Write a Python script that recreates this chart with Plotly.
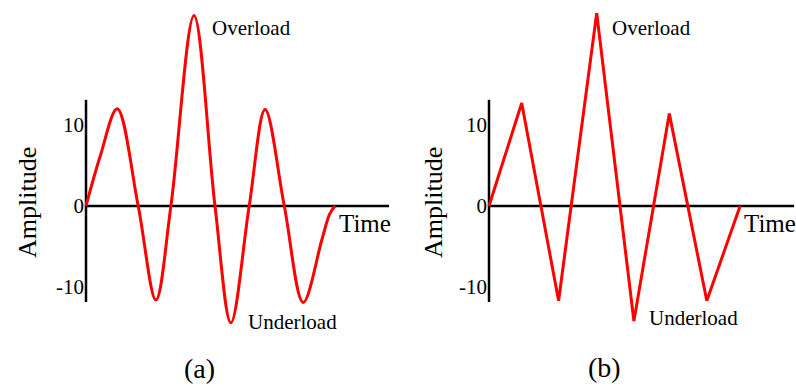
import plotly.graph_objects as go

# ---- data ----
time_a = [0, 0.47, 1.04, 1.74, 2.33, 2.83, 3.6, 4.3, 4.83, 5.44, 5.97, 6.61, 7.24, 7.86, 8.12, 8.3]
amp_a = [0, 6.1, 12.0, 0, -11.6, 0, 23.5, 0, -14.4, 0, 11.9, 0, -11.9, -4.2, -1.0, 0]
time_b = [0, 1.09, 2.32, 3.59, 4.83, 6.01, 7.26, 8.37]
amp_b = [0, 12.7, -11.7, 23.8, -14.2, 11.4, -11.7, 0]
tick_vals = [10, 0, -10]
tick_text = ["10", "0", "-10"]
axis_top_a, axis_bottom_a, time_end_a = 13.1, -11.85, 10.1
axis_top_b, axis_bottom_b, time_end_b = 13.1, -11.85, 10.17

W, H = 796, 388
FONT = "Liberation Serif, Times New Roman, serif"
RED = "#ff0000"

fig = go.Figure()
fig.add_trace(go.Scatter(x=time_a, y=amp_a, mode="lines", xaxis="x", yaxis="y",
                         line=dict(color=RED, width=3, shape="spline", smoothing=1.0),
                         showlegend=False, hoverinfo="skip"))
fig.add_trace(go.Scatter(x=time_b, y=amp_b, mode="lines", xaxis="x2", yaxis="y2",
                         line=dict(color=RED, width=3),
                         showlegend=False, hoverinfo="skip"))

xr = [-0.2, 10.2]
yr = [-15.3, 24.8]
ydom = [(H - 330) / H, (H - 5) / H]

def xa(dom, anchor):
    return dict(domain=dom, range=xr, anchor=anchor, visible=False, fixedrange=True)

def ya(pos):
    return dict(domain=ydom, range=yr, anchor="free", position=pos,
                showgrid=False, zeroline=False, showline=False, ticks="",
                tickvals=tick_vals, ticktext=tick_text, ticklabelstandoff=2,
                tickfont=dict(family=FONT, size=21, color="black"), fixedrange=True)

shapes = []
for xref, yref, top, bot, tend in [("x", "y", axis_top_a, axis_bottom_a, time_end_a),
                                   ("x2", "y2", axis_top_b, axis_bottom_b, time_end_b)]:
    shapes.append(dict(type="line", xref=xref, yref=yref, x0=0, x1=0, y0=bot, y1=top,
                       line=dict(color="black", width=2.5), layer="below"))
    shapes.append(dict(type="line", xref=xref, yref=yref, x0=0, x1=tend, y0=0, y1=0,
                       line=dict(color="black", width=2.5), layer="below"))

def ann(text, px, py, size, xanchor="left", angle=0):
    return dict(text=text, x=px / W, y=1 - py / H, xref="paper", yref="paper",
                xanchor=xanchor, yanchor="middle", showarrow=False, textangle=angle,
                font=dict(family=FONT, size=size, color="black"))

annotations = [
    ann("Overload", 210, 28, 21), ann("Underload", 246, 322, 21),
    ann("Time", 337, 224, 25), ann("Amplitude", 27, 203, 26, "center", -90),
    ann("(a)", 199, 368, 28, "center"),
    ann("Overload", 610, 28, 21), ann("Underload", 647, 318, 21),
    ann("Time", 742, 224, 25), ann("Amplitude", 433, 203, 26, "center", -90),
    ann("(b)", 604, 367, 28, "center"),
]

fig.update_layout(
    width=W, height=H, margin=dict(l=0, r=0, t=0, b=0),
    paper_bgcolor="white", plot_bgcolor="rgba(0,0,0,0)",
    xaxis=xa([80 / W, 392 / W], "y"),
    yaxis=ya(86 / W),
    xaxis2=xa([483 / W, 795 / W], "y2"),
    yaxis2=ya(489 / W),
    shapes=shapes, annotations=annotations,
)

fig.write_html("out.html", config={"displayModeBar": False},
               post_script="document.body.style.margin='0';document.body.style.overflow='hidden';")
